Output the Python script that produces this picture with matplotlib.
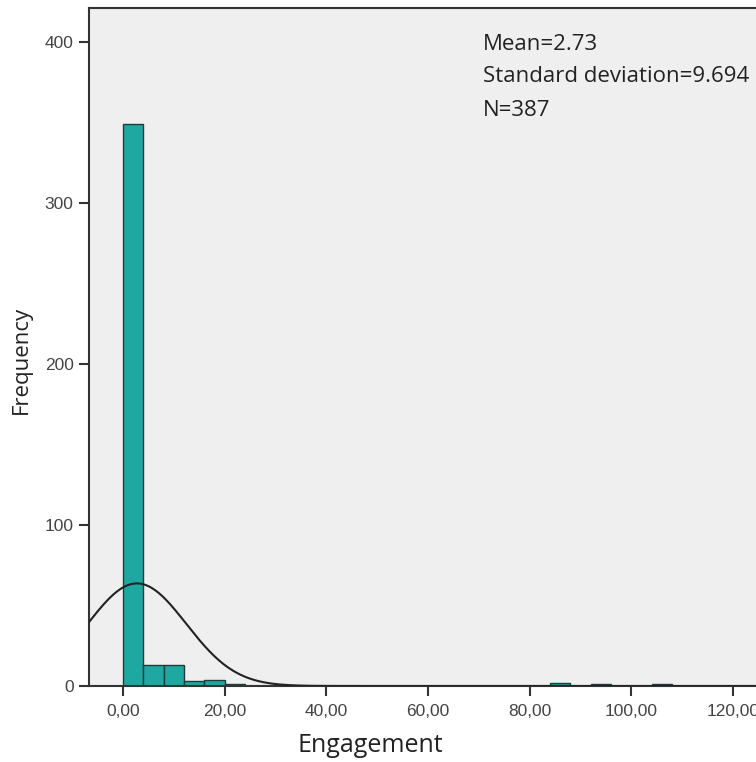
import numpy as np
import matplotlib
matplotlib.use("Agg")
import matplotlib.pyplot as plt
from matplotlib.ticker import FuncFormatter

# Histogram data (bin edges, width 4)
bin_left = [0, 4, 8, 12, 16, 20, 84, 92, 104]
counts = [349, 13, 13, 3, 4, 1, 2, 1, 1]
bin_width = 4
mean = 2.73
sd = 9.694
n = 387
xticks = [0, 20, 40, 60, 80, 100, 120]
yticks = [0, 100, 200, 300, 400]

fig = plt.figure(figsize=(7.56, 7.62), dpi=100)
ax = fig.add_axes([89/756, 1-686/762, 1-89/756 + 0.01, (686-8)/762])
ax.set_facecolor("#efefef")

ax.bar(bin_left, counts, width=bin_width, align="edge",
       color="#1fa8a1", edgecolor="#1c3d3b", linewidth=1.0, zorder=2)

xs = np.linspace(-7, 125, 600)
pdf = n * bin_width / (sd * np.sqrt(2*np.pi)) * np.exp(-0.5*((xs-mean)/sd)**2)
ax.plot(xs, pdf, color="#222222", linewidth=1.5, zorder=3)

ax.set_xlim(-6.7, 126)
ax.set_ylim(0, 421)
ax.set_xticks(xticks)
ax.set_yticks(yticks)
ax.xaxis.set_major_formatter(FuncFormatter(lambda v, p: f"{v:.2f}".replace(".", ",")))
ax.tick_params(direction="out", length=7, width=1.5, color="#333333",
               labelsize=12.5, labelcolor="#444444", pad=4)
for lab in ax.get_xticklabels() + ax.get_yticklabels():
    lab.set_family("Liberation Sans")
ax.tick_params(axis="x", pad=6)
for s in ["left", "bottom", "top", "right"]:
    ax.spines[s].set_color("#333333")
    ax.spines[s].set_linewidth(1.5)

fig.text(370/756, 1-746/762, "Engagement", fontsize=18, family="Open Sans",
         color="#222222", ha="center", va="center")
fig.text(21/756, 1-360/762, "Frequency", fontsize=16, family="Open Sans",
         color="#222222", ha="center", va="center", rotation=90)

for i, s in enumerate(["Mean=2.73", "Standard deviation=9.694", "N=387"]):
    fig.text(483/756, 1 - (44 + 33*i)/762, s, fontsize=16, family="Open Sans",
             color="#222222", va="center", ha="left")

fig.savefig("out.png", dpi=100)
